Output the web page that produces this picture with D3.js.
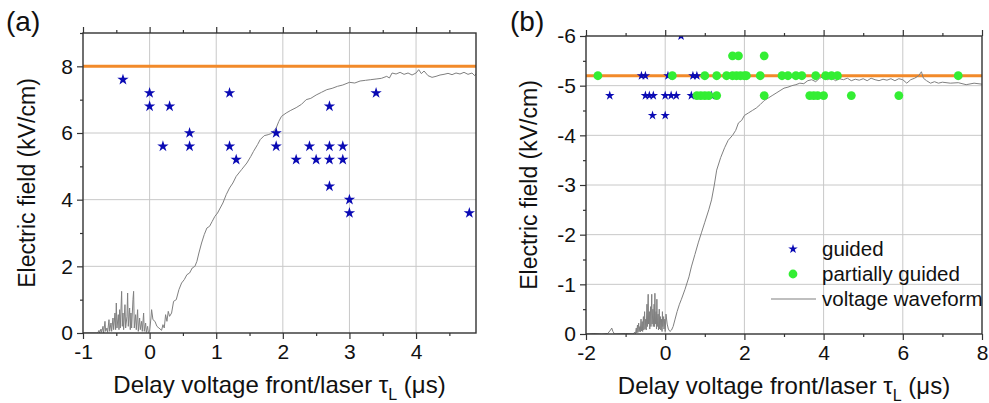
<!DOCTYPE html>
<html>
<head>
<meta charset="utf-8">
<script src="https://cdn.jsdelivr.net/npm/d3@7"></script>
<style>
  html, body { margin: 0; padding: 0; background: #fff; }
  svg { display: block; font-family: "Liberation Sans", Arial, sans-serif; }
</style>
</head>
<body>
<svg id="fig" width="989" height="403"></svg>
<script>
// ---- data ----
// panel (a): guided discharges
const guidedAx = [-0.4, 0, 0, 0.3, 0.2, 0.6, 0.6, 1.2, 1.2, 1.3, 1.9, 1.9, 2.2, 2.4, 2.5, 2.7, 2.7, 2.7, 2.7, 2.9, 2.9, 3.0, 3.0, 3.4, 4.8];
const guidedAy = [7.6, 7.2, 6.8, 6.8, 5.6, 6.0, 5.6, 7.2, 5.6, 5.2, 6.0, 5.6, 5.2, 5.6, 5.2, 6.8, 5.6, 5.2, 4.4, 5.6, 5.2, 4.0, 3.6, 7.2, 3.6];
const thresholdA = 8;

// panel (b)
const guidedBx = [-0.6, -0.5, 0.07, 0.7, 0.8, -1.4, -0.5, -0.4, -0.3, 0.0, 0.15, 0.28, 0.66, 1.17, -0.32, 0.0, 0.4];
const guidedBy = [-5.2, -5.2, -5.2, -5.2, -5.2, -4.8, -4.8, -4.8, -4.8, -4.8, -4.8, -4.8, -4.8, -4.8, -4.4, -4.4, -6.0];
const partialBx = [-1.7, 0.18, 1.0, 1.3, 1.55, 1.7, 1.8, 1.9, 2.0, 2.05, 2.4, 2.95, 3.1, 3.3, 3.45, 3.8, 4.05, 4.2, 4.35, 7.4,
                   1.7, 1.85, 2.5,
                   0.8, 0.9, 1.0, 1.1, 1.3, 2.5, 3.65, 3.75, 3.85, 4.0, 4.7, 5.9];
const partialBy = [-5.2, -5.2, -5.2, -5.2, -5.2, -5.2, -5.2, -5.2, -5.2, -5.2, -5.2, -5.2, -5.2, -5.2, -5.2, -5.2, -5.2, -5.2, -5.2, -5.2,
                   -5.6, -5.6, -5.6,
                   -4.8, -4.8, -4.8, -4.8, -4.8, -4.8, -4.8, -4.8, -4.8, -4.8, -4.8, -4.8];
const thresholdB = -5.2;

// voltage waveforms [t (µs), E (kV/cm)]
const waveA = [
  [-1.0, 0], [-0.8, 0], [-0.78, 0], [-0.76, 0.08], [-0.75, 0], [-0.73, 0.12], [-0.72, 0.02], [-0.7, 0.2],
  [-0.69, 0], [-0.67, 0.35], [-0.66, 0.05], [-0.64, 0.15], [-0.63, 0.02], [-0.61, 0.4], [-0.6, 0.05], [-0.58, 0.3],
  [-0.57, 0.05], [-0.55, 0.45], [-0.54, 0.1], [-0.52, 0.6], [-0.51, 0.1], [-0.5, 0.9], [-0.49, 0.15], [-0.47, 0.55],
  [-0.46, 0.1], [-0.45, 0.7], [-0.44, 0.15], [-0.42, 1.25], [-0.41, 0.2], [-0.4, 0.6], [-0.39, 0.1], [-0.37, 0.85],
  [-0.36, 0.15], [-0.34, 0.5], [-0.33, 1.2], [-0.32, 0.2], [-0.3, 0.75], [-0.29, 0.1], [-0.28, 0.6], [-0.27, 0.15],
  [-0.25, 1.0], [-0.24, 1.25], [-0.23, 0.15], [-0.21, 0.55], [-0.2, 0.1], [-0.18, 0.7], [-0.17, 0.05], [-0.15, 0.45],
  [-0.14, 0.1], [-0.12, 0.35], [-0.11, 0.05], [-0.09, 0.6], [-0.08, 0.05], [-0.06, 0.3], [-0.05, 0.02], [-0.03, 0.2],
  [-0.02, 0.02], [0.0, 0.05], [0.02, 0.45], [0.03, 0.7], [0.05, 0.4], [0.08, 0.35], [0.11, 0.2], [0.14, 0.15],
  [0.18, 0.08], [0.2, 0.25], [0.22, 0.15], [0.24, 0.55], [0.26, 0.35], [0.28, 0.65], [0.3, 0.5], [0.33, 0.6],
  [0.36, 0.95], [0.4, 1.0], [0.44, 1.3], [0.48, 1.5], [0.52, 1.6], [0.56, 1.75], [0.6, 1.8], [0.64, 1.95],
  [0.68, 2.0], [0.71, 2.15], [0.74, 2.4], [0.78, 2.7], [0.82, 2.95], [0.86, 3.15], [0.9, 3.2], [0.94, 3.35],
  [0.98, 3.5], [1.02, 3.6], [1.06, 3.75], [1.1, 3.9], [1.15, 4.15], [1.2, 4.35], [1.25, 4.5], [1.3, 4.7],
  [1.38, 4.9], [1.46, 5.1], [1.52, 5.3], [1.56, 5.45], [1.62, 5.65], [1.66, 5.8], [1.72, 5.92], [1.78, 5.95],
  [1.82, 5.98], [1.86, 6.05], [1.9, 6.15], [1.94, 6.35], [1.98, 6.5], [2.05, 6.6], [2.12, 6.68], [2.2, 6.76],
  [2.28, 6.86], [2.35, 7.0], [2.42, 7.04], [2.5, 7.14], [2.58, 7.22], [2.66, 7.3], [2.74, 7.34], [2.82, 7.4],
  [2.9, 7.44], [3.0, 7.52], [3.08, 7.5], [3.16, 7.56], [3.24, 7.58], [3.32, 7.6], [3.4, 7.62], [3.48, 7.64],
  [3.56, 7.7], [3.6, 7.65], [3.64, 7.8], [3.7, 7.77], [3.76, 7.82], [3.82, 7.76], [3.88, 7.8], [3.94, 7.74],
  [4.0, 7.8], [4.04, 7.9], [4.08, 7.78], [4.12, 7.86], [4.18, 7.72], [4.24, 7.67], [4.3, 7.7], [4.36, 7.74],
  [4.42, 7.76], [4.48, 7.79], [4.54, 7.75], [4.6, 7.8], [4.66, 7.77], [4.72, 7.82], [4.78, 7.76], [4.84, 7.8],
  [4.88, 7.72], [4.9, 7.78]
];
const waveB = [
  [-2.0, 0], [-1.8, -0.01], [-1.6, 0], [-1.45, -0.01], [-1.38, -0.08], [-1.35, -0.12], [-1.32, -0.05], [-1.28, 0],
  [-1.0, -0.01], [-0.8, 0], [-0.77, -0.04], [-0.75, -0.01], [-0.73, -0.12], [-0.72, -0.02], [-0.7, -0.18], [-0.69, -0.03],
  [-0.67, -0.22], [-0.66, -0.05], [-0.64, -0.15], [-0.63, -0.04], [-0.61, -0.3], [-0.6, -0.06], [-0.58, -0.25], [-0.57, -0.05],
  [-0.55, -0.35], [-0.54, -0.08], [-0.52, -0.45], [-0.51, -0.1], [-0.49, -0.3], [-0.48, -0.08], [-0.46, -0.6], [-0.45, -0.15],
  [-0.43, -0.8], [-0.42, -0.2], [-0.4, -0.45], [-0.39, -0.1], [-0.37, -0.55], [-0.36, -0.15], [-0.34, -0.8], [-0.33, -0.2],
  [-0.31, -0.5], [-0.3, -0.15], [-0.28, -0.6], [-0.27, -0.15], [-0.26, -0.82], [-0.25, -0.2], [-0.23, -0.45], [-0.22, -0.1],
  [-0.21, -0.7], [-0.2, -0.15], [-0.18, -0.4], [-0.17, -0.08], [-0.15, -0.5], [-0.14, -0.1], [-0.12, -0.35], [-0.11, -0.08],
  [-0.09, -0.3], [-0.08, -0.05], [-0.07, -0.45], [-0.06, -0.15], [-0.04, -0.35], [-0.03, -0.1], [-0.01, -0.3], [0.0, -0.05],
  [0.02, -0.4], [0.05, -0.2], [0.08, -0.1], [0.12, -0.05], [0.16, -0.08], [0.2, -0.15], [0.25, -0.3],
  [0.3, -0.45], [0.36, -0.6], [0.41, -0.7], [0.5, -0.9], [0.6, -1.15], [0.66, -1.35], [0.75, -1.6], [0.84, -1.85],
  [0.92, -2.05], [1.0, -2.25], [1.1, -2.5], [1.17, -2.7], [1.24, -3.0], [1.3, -3.3], [1.4, -3.55], [1.5, -3.75],
  [1.59, -3.9], [1.7, -4.0], [1.78, -4.1], [1.85, -4.25], [1.93, -4.3], [2.0, -4.4], [2.1, -4.45], [2.2, -4.5],
  [2.3, -4.55], [2.4, -4.62], [2.5, -4.7], [2.6, -4.75], [2.7, -4.8], [2.8, -4.85], [2.9, -4.9], [3.0, -4.95],
  [3.1, -4.97], [3.2, -5.0], [3.3, -5.02], [3.4, -5.05], [3.5, -5.04], [3.6, -5.1], [3.7, -5.12], [3.8, -5.08],
  [3.9, -5.15], [4.0, -5.18], [4.1, -5.12], [4.2, -5.16], [4.3, -5.1], [4.4, -5.14], [4.5, -5.12], [4.6, -5.15],
  [4.7, -5.1], [4.8, -5.13], [4.9, -5.11], [5.0, -5.14], [5.1, -5.1], [5.2, -5.15], [5.3, -5.12], [5.4, -5.1],
  [5.5, -5.13], [5.6, -5.11], [5.7, -5.14], [5.8, -5.1], [5.9, -5.14], [6.0, -5.12], [6.1, -5.05], [6.2, -5.12],
  [6.3, -5.15], [6.4, -5.2], [6.47, -5.28], [6.52, -5.15], [6.6, -5.1], [6.7, -5.05], [6.8, -5.08], [6.9, -5.05],
  [7.0, -5.07], [7.2, -5.05], [7.4, -5.06], [7.6, -5.02], [7.8, -5.05], [8.0, -5.03]
];

// ticks
const xTicksA = [-1, 0, 1, 2, 3, 4];
const xMinorA = [-0.5, 0.5, 1.5, 2.5, 3.5, 4.5];
const yTicksA = [0, 2, 4, 6, 8];
const yMinorA = [1, 3, 5, 7, 9];
const xTicksB = [-2, 0, 2, 4, 6, 8];
const xMinorB = [-1, 1, 3, 5, 7];
const yTicksB = [0, -1, -2, -3, -4, -5, -6];
const yMinorB = [-0.5, -1.5, -2.5, -3.5, -4.5, -5.5];

const legendItems = ["guided", "partially guided", "voltage waveform"];

// ---- style ----
const BLUE = "#0a0ab4", GREEN = "#33ee33", ORANGE = "#f28a2a", WAVE = "#808080", GRID = "#c8c8c8", AXIS = "#333";
const FONT = "Liberation Sans, Arial, sans-serif";

const svg = d3.select("#fig");
const star = d3.symbol().type(d3.symbolStar);
const plain = (d) => String(d); // keep the ascii hyphen, as in the figure

function panel(cfg) {
  const { id, left, right, top, bottom } = cfg;
  const x = d3.scaleLinear().domain(cfg.xDomain).range([left, right]);
  const y = d3.scaleLinear().domain(cfg.yDomain).range([bottom, top]);
  const g = svg.append("g");

  g.append("clipPath").attr("id", "clip-" + id)
    .append("rect").attr("x", left).attr("y", top).attr("width", right - left).attr("height", bottom - top);

  // grid
  g.append("g").selectAll("line").data(cfg.xTicks.filter((t) => t > cfg.xDomain[0] && t < cfg.xDomain[1])).join("line")
    .attr("x1", x).attr("x2", x).attr("y1", top).attr("y2", bottom)
    .attr("stroke", GRID).attr("stroke-width", 1);
  g.append("g").selectAll("line").data(cfg.yTicks.filter((t) => y(t) > top + 1 && y(t) < bottom - 1)).join("line")
    .attr("x1", left).attr("x2", right).attr("y1", y).attr("y2", y)
    .attr("stroke", GRID).attr("stroke-width", 1);

  const plot = g.append("g").attr("clip-path", `url(#clip-${id})`);

  // threshold line
  plot.append("line")
    .attr("x1", left).attr("x2", right).attr("y1", y(cfg.threshold)).attr("y2", y(cfg.threshold))
    .attr("stroke", ORANGE).attr("stroke-width", 3);

  // waveform
  plot.append("path")
    .datum(cfg.wave)
    .attr("d", d3.line().x((d) => x(d[0])).y((d) => y(d[1])))
    .attr("fill", "none").attr("stroke", WAVE).attr("stroke-width", 1);

  // guided stars
  plot.append("g").selectAll("path").data(cfg.gx.map((v, i) => [v, cfg.gy[i]])).join("path")
    .attr("d", star.size(cfg.starSize)())
    .attr("transform", (d) => `translate(${x(d[0])},${y(d[1])})`)
    .attr("fill", BLUE);

  // partially guided dots
  if (cfg.px) {
    plot.append("g").selectAll("circle").data(cfg.px.map((v, i) => [v, cfg.py[i]])).join("circle")
      .attr("cx", (d) => x(d[0])).attr("cy", (d) => y(d[1])).attr("r", 4.4)
      .attr("fill", GREEN);
  }

  // axes
  const xb = d3.axisBottom(x).tickValues(cfg.xTicks).tickSize(6).tickPadding(5).tickFormat(plain);
  const xbm = d3.axisBottom(x).tickValues(cfg.xMinor).tickSize(3).tickFormat("");
  const xt = d3.axisTop(x).tickValues(cfg.xTicks).tickSize(6).tickFormat("");
  const xtm = d3.axisTop(x).tickValues(cfg.xMinor).tickSize(3).tickFormat("");
  const yl = d3.axisLeft(y).tickValues(cfg.yTicks).tickSize(6).tickPadding(4).tickFormat(plain);
  const ylm = d3.axisLeft(y).tickValues(cfg.yMinor).tickSize(3).tickFormat("");

  const ax = (gen, tx, ty) => g.append("g").attr("transform", `translate(${tx},${ty})`).call(gen);
  const axes = [ax(xb, 0, bottom), ax(xbm, 0, bottom), ax(xt, 0, top), ax(xtm, 0, top), ax(yl, left, 0), ax(ylm, left, 0)];
  axes.forEach((a) => {
    a.select(".domain").remove();
    a.selectAll("line").attr("stroke", AXIS).attr("stroke-width", 1.2);
    a.selectAll("text").attr("font-size", 21).attr("fill", "#111").attr("font-family", FONT);
  });

  g.append("rect").attr("x", left).attr("y", top).attr("width", right - left).attr("height", bottom - top)
    .attr("fill", "none").attr("stroke", AXIS).attr("stroke-width", 1.4);

  // titles
  const xt2 = g.append("text").attr("x", (left + right) / 2).attr("y", bottom + 60)
    .attr("text-anchor", "middle").attr("font-size", 24).attr("fill", "#111");
  xt2.append("tspan").text("Delay voltage front/laser τ");
  xt2.append("tspan").attr("font-size", 16).attr("dy", 7).text("L");
  xt2.append("tspan").attr("dy", -7).text(" (μs)");

  g.append("text")
    .attr("transform", `translate(${cfg.yTitleX},${(top + bottom) / 2}) rotate(-90)`)
    .attr("text-anchor", "middle").attr("font-size", 23).attr("fill", "#111")
    .text("Electric field (kV/cm)");

  g.append("text").attr("x", cfg.labelX).attr("y", 31).attr("font-size", 28).attr("fill", "#111").text(cfg.label);

  return { x, y, g };
}

panel({
  id: "a", left: 83, right: 476, top: 33, bottom: 333,
  xDomain: [-1, 4.9], yDomain: [0, 9],
  xTicks: xTicksA, xMinor: xMinorA, yTicks: yTicksA, yMinor: yMinorA,
  threshold: thresholdA, wave: waveA, gx: guidedAx, gy: guidedAy, starSize: 40,
  yTitleX: 35, labelX: 6, label: "(a)"
});

const pb = panel({
  id: "b", left: 586, right: 982, top: 36, bottom: 334,
  xDomain: [-2, 8], yDomain: [0, -6],
  xTicks: xTicksB, xMinor: xMinorB, yTicks: yTicksB, yMinor: yMinorB,
  threshold: thresholdB, wave: waveB, gx: guidedBx, gy: guidedBy, px: partialBx, py: partialBy, starSize: 28,
  yTitleX: 537, labelX: 510, label: "(b)"
});

// legend (panel b)
const leg = pb.g.append("g");
const legRowY = [249, 274, 299];
leg.append("path").attr("d", star.size(28)()).attr("transform", `translate(793,${legRowY[0]})`).attr("fill", BLUE);
leg.append("circle").attr("cx", 793).attr("cy", legRowY[1]).attr("r", 4.4).attr("fill", GREEN);
leg.append("line").attr("x1", 771).attr("x2", 816).attr("y1", legRowY[2]).attr("y2", legRowY[2])
  .attr("stroke", WAVE).attr("stroke-width", 1.2);
leg.selectAll("text.item").data(legendItems).join("text").attr("class", "item")
  .attr("x", 822).attr("y", (d, i) => legRowY[i] + 7)
  .attr("font-size", 20.5).attr("fill", "#111").text((d) => d);
</script>
</body>
</html>
